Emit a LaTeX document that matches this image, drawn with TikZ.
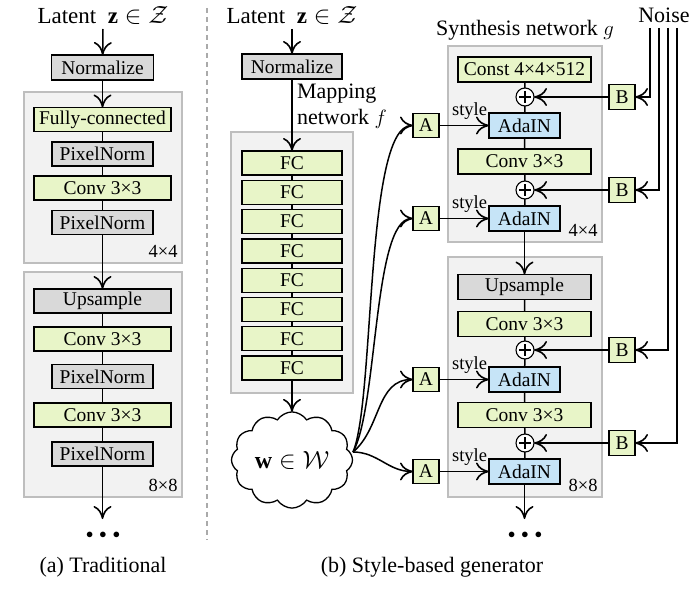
\documentclass[tikz,border=0pt]{standalone}
\usepackage{fontspec}
\setmainfont{Liberation Serif}
\usetikzlibrary{arrows.meta,shapes.symbols,calc}
\definecolor{boxgreen}{RGB}{232,245,200}
\definecolor{boxgray}{RGB}{217,217,217}
\definecolor{boxblue}{RGB}{198,228,247}
\definecolor{panelfill}{RGB}{242,242,242}
\definecolor{panelline}{RGB}{190,190,190}
\definecolor{sepgray}{RGB}{170,170,170}
\begin{document}
\begin{tikzpicture}[x=1pt,y=-1pt,
  every node/.style={inner sep=0pt, outer sep=0pt, font=\fontsize{19.5}{22}\selectfont},
  blk/.style={draw=black, line width=1.3pt, minimum height=24pt},
  gblk/.style={blk, fill=boxgreen},
  grblk/.style={blk, fill=boxgray},
  bblk/.style={blk, fill=boxblue, minimum width=71pt, minimum height=25pt},
  abox/.style={gblk, minimum width=26pt},
  ttl/.style={font=\fontsize{22}{26}\selectfont},
  lat/.style={font=\fontsize{23}{28}\selectfont, anchor=base},
  sml/.style={font=\fontsize{18.5}{20}\selectfont},
  panel/.style={draw=panelline, fill=panelfill, line width=1.2pt},
  ln/.style={line width=1.5pt},
  arr/.style={ln, -{Computer Modern Rightarrow[length=13pt,width=18pt,line width=1.6pt]}},
  plusc/.style={circle, draw, fill=white, line width=1.1pt, minimum size=18pt,
    path picture={\draw[line width=1.1pt] ($(path picture bounding box.center)+(-6,0)$) -- ++(12,0);
                  \draw[line width=1.1pt] ($(path picture bounding box.center)+(0,-6)$) -- ++(0,12);}},
  dots/.style={font=\fontsize{14}{14}\selectfont},
]
\useasboundingbox (0,0) rectangle (700,591);

% separator
\draw[sepgray, line width=1.1pt, dash pattern=on 5pt off 4pt] (207,8) -- (207,540);

% ---------------- (a) Traditional ----------------
\node[panel, minimum width=158pt, minimum height=171pt] (panA1) at (103,177.5) {};
\node[panel, minimum width=158pt, minimum height=225pt] (panA2) at (103,384.5) {};
\node[lat] (latA) at (103,24) {Latent~~$\mathbf{z}\in\mathcal{Z}$};
\coordinate (latAb) at (103,29);
\node[grblk, minimum width=102pt, minimum height=25pt] (normA) at (102.5,67.5) {Normalize};
\node[gblk, minimum width=137pt] (fcA) at (102.5,119.5) {Fully-connected};
\node[grblk, minimum width=101pt] (pnA1) at (102.5,154) {PixelNorm};
\node[gblk, minimum width=137pt] (cvA1) at (102.5,188) {Conv 3×3};
\node[grblk, minimum width=101pt] (pnA2) at (102.5,222.5) {PixelNorm};
\node[sml, anchor=south east] (lbA1) at ($(panA1.south east)+(-4.5,-5.5)$) {4×4};
\node[grblk, minimum width=137pt] (upA) at (102.5,301) {Upsample};
\node[gblk, minimum width=137pt] (cvA2) at (102.5,339) {Conv 3×3};
\node[grblk, minimum width=101pt] (pnA3) at (102.5,376.5) {PixelNorm};
\node[gblk, minimum width=137pt] (cvA3) at (102.5,415) {Conv 3×3};
\node[grblk, minimum width=101pt] (pnA4) at (102.5,454) {PixelNorm};
\node[sml, anchor=south east] (lbA2) at ($(panA2.south east)+(-4.5,-5.5)$) {8×8};
\coordinate (endA) at (102.5,519);
\node[dots] (dotA) at (103,535) {$\bullet\hspace{3pt}\bullet\hspace{3pt}\bullet$};
\node[ttl] (capA) at (103,567) {(a) Traditional};

\draw[arr] (latAb) -- (normA);
\draw[arr] (normA) -- (fcA);
\draw[ln] (fcA) -- (pnA1) -- (cvA1) -- (pnA2);
\draw[arr] (pnA2) -- (upA);
\draw[ln] (upA) -- (cvA2) -- (pnA3) -- (cvA3) -- (pnA4);
\draw[arr] (pnA4) -- (endA);

% ---------------- (b) Mapping network ----------------
\node[panel, minimum width=122pt, minimum height=261pt] (panM) at (292,262.5) {};
\node[lat] (latM) at (292,24) {Latent~~$\mathbf{z}\in\mathcal{Z}$};
\coordinate (latMb) at (292,29);
\node[grblk, minimum width=100pt, minimum height=25pt] (normM) at (292,66.5) {Normalize};
\node[ttl, anchor=north west, align=left] (mapL) at (297,84) {Mapping\\network $f$};
\foreach \i in {1,...,8} {
  \node[gblk, minimum width=100pt] (fc\i) at (292,{163+29.3*(\i-1)}) {FC};
}
\node[cloud, draw, fill=white, line width=1.3pt, cloud puffs=12, cloud puff arc=115,
      aspect=1.25, minimum width=121pt, minimum height=96pt, font=\fontsize{24}{28}\selectfont]
      (w) at (292,460) {$\mathbf{w}\in\mathcal{W}$};

\draw[arr] (latMb) -- (normM);
\draw[arr] (normM) -- (fc1);
\draw[ln] (fc1) -- (fc2) -- (fc3) -- (fc4) -- (fc5) -- (fc6) -- (fc7) -- (fc8);
\draw[arr] (fc8) -- (w);

% ---------------- (b) Synthesis network ----------------
\node[panel, minimum width=154pt, minimum height=196pt] (panS1) at (525,144) {};
\node[panel, minimum width=154pt, minimum height=240pt] (panS2) at (525,377) {};
\node[ttl] (synT) at (525,30) {Synthesis network $g$};
\node[ttl] (noise) at (664,15.5) {Noise};

\node[gblk, minimum width=133pt, minimum height=25pt] (const) at (524.5,69.5) {Const 4×4×512};
\node[plusc] (p1) at (525,97) {};
\node[bblk] (ada1) at (524.5,125.5) {AdaIN};
\node[gblk, minimum width=133pt, minimum height=25pt] (cvS1) at (524.5,161.5) {Conv 3×3};
\node[plusc] (p2) at (525,190) {};
\node[bblk] (ada2) at (524.5,218.5) {AdaIN};
\node[sml, anchor=south east] (lbS1) at ($(panS1.south east)+(-4.5,-5.5)$) {4×4};

\node[grblk, minimum width=133pt, minimum height=25pt] (upS) at (524.5,287) {Upsample};
\node[gblk, minimum width=133pt, minimum height=25pt] (cvS2) at (524.5,324) {Conv 3×3};
\node[plusc] (p3) at (525,350) {};
\node[bblk] (ada3) at (524.5,379.5) {AdaIN};
\node[gblk, minimum width=133pt, minimum height=25pt] (cvS3) at (524.5,415) {Conv 3×3};
\node[plusc] (p4) at (525,443) {};
\node[bblk] (ada4) at (524.5,471.5) {AdaIN};
\node[sml, anchor=south east] (lbS2) at ($(panS2.south east)+(-4.5,-5.5)$) {8×8};
\coordinate (endS) at (524.5,519);
\node[dots] (dotS) at (525,535) {$\bullet\hspace{3pt}\bullet\hspace{3pt}\bullet$};
\node[ttl] (capB) at (432,567) {(b) Style-based generator};

% A boxes
\node[abox] (a1) at (426,125.5) {A};
\node[abox] (a2) at (426,218.5) {A};
\node[abox] (a3) at (426,379.5) {A};
\node[abox] (a4) at (426,471.5) {A};
% B boxes
\node[abox, minimum height=25pt] (b1) at (622,97) {B};
\node[abox, minimum height=25pt] (b2) at (622,190) {B};
\node[abox, minimum height=25pt] (b3) at (622,350) {B};
\node[abox, minimum height=25pt] (b4) at (622,443) {B};
% style labels
\foreach \k in {1,2,3,4} {
  \node[sml, anchor=south east] (st\k) at ($(ada\k.west)+(-2,-6)$) {style};
}
% noise starts
\coordinate (n1) at (650,28);
\coordinate (n2) at (659,28);
\coordinate (n3) at (668,28);
\coordinate (n4) at (677,28);

% synthesis connectors
\draw[ln] (const) -- (p1) -- (ada1) -- (cvS1) -- (p2) -- (ada2);
\draw[arr] (ada2) -- (upS);
\draw[ln] (upS) -- (cvS2) -- (p3) -- (ada3) -- (cvS3) -- (p4) -- (ada4);
\draw[arr] (ada4) -- (endS);
\foreach \k in {1,2,3,4} {
  \draw[arr] (a\k) -- (ada\k);
  \draw[arr] (b\k) -- (p\k);
  \draw[arr] (n\k) |- (b\k.east);
}

% w -> A curves
\coordinate (wo) at (353,452);
\draw[arr] (wo) .. controls +(22,-52) and +(-48,0) .. (a1.west);
\draw[arr] (wo) .. controls +(25,-45) and +(-40,0) .. (a2.west);
\draw[arr] (wo) to[out=40,in=180] (a3.west);
\draw[arr] (wo) to[out=0,in=180] (a4.west);
\end{tikzpicture}
\end{document}
